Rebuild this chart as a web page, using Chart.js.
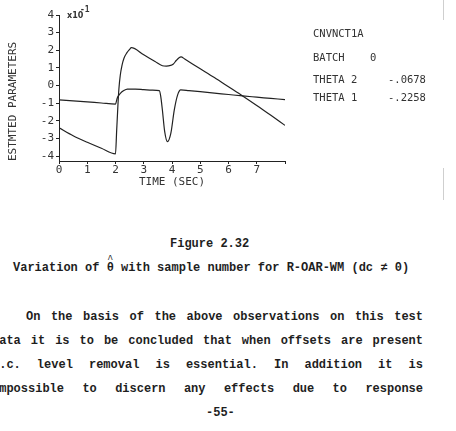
<!DOCTYPE html>
<html>
<head>
<meta charset="utf-8">
<script src="https://cdn.jsdelivr.net/npm/chart.js@4.4.1/dist/chart.umd.min.js"></script>
<style>
  html, body { margin: 0; padding: 0; background: #fff; }
  body { width: 456px; height: 431px; position: relative; overflow: hidden; }
  #plot { position: absolute; left: 0; top: 0; }
  .typed {
    position: absolute;
    font: bold 12px 'Liberation Mono', 'DejaVu Sans Mono', monospace;
    color: #1e1e1e;
    line-height: 16px;
    white-space: pre;
  }
  .just { white-space: normal; text-align: justify; text-align-last: justify; }
  .hat { position: relative; display: inline-block; }
  .hat span { position: absolute; left: 0; top: -8px; width: 100%; text-align: center; font-size: 10px; font-weight: normal; }
  .edge { position: absolute; left: 443px; width: 1px; background: #cfcfcf; }
</style>
</head>
<body>
<canvas id="plot" width="456" height="200"></canvas>

<div class="typed" style="left:170px; top:236px;">Figure 2.32</div>
<div class="typed" style="left:13px; top:260px;">Variation of <span class="hat">θ<span>^</span></span> with sample number for R-OAR-WM (dc ≠ 0)</div>

<div class="typed just" style="left:26px; top:309px; width:397px;">On the basis of the above observations on this test</div>
<div class="typed just" style="left:-8px; top:333px; width:431px;">data it is to be concluded that when offsets are present</div>
<div class="typed just" style="left:-8px; top:357px; width:431px;">d.c. level removal is essential. In addition it is</div>
<div class="typed just" style="left:-8px; top:381px; width:431px;">impossible to discern any effects due to response</div>

<div class="typed" style="left:206px; top:405px;">-55-</div>

<div class="edge" style="top:0; height:20px;"></div>
<div class="edge" style="top:168px; height:32px;"></div>

<script>
// ===== Values (units of x10^-1) =====
const theta1Time = [0, 0.5, 1, 1.5, 2.0, 2.04, 2.08, 2.12, 2.17, 2.23, 2.3, 2.4, 2.5, 2.56,
  3.0, 3.4, 3.66, 3.8, 3.95, 4.05, 4.15, 4.25, 4.32, 4.45, 5, 5.5, 6, 6.5, 7, 7.5, 8];
const theta1Values = [-2.4, -2.85, -3.22, -3.56, -3.88, -2.6, -1.3, -0.2, 0.6, 1.15, 1.55, 1.85, 2.05, 2.15,
  1.74, 1.36, 1.12, 1.1, 1.14, 1.22, 1.42, 1.58, 1.63, 1.5, 0.95, 0.45, -0.07, -0.59, -1.13, -1.69, -2.26];

const theta2Time = [0, 0.5, 1, 1.5, 2.0, 2.06, 2.12, 2.18, 2.28, 2.42, 2.7, 3.0, 3.3, 3.55,
  3.6, 3.66, 3.74, 3.84, 3.96, 4.08, 4.2, 4.31, 4.6, 5, 5.5, 6, 6.5, 7, 7.5, 8];
const theta2Values = [-0.81, -0.87, -0.93, -0.99, -1.05, -0.72, -0.55, -0.43, -0.3, -0.2, -0.2, -0.23, -0.26, -0.29,
  -0.6, -1.39, -2.6, -3.18, -2.7, -1.39, -0.53, -0.25, -0.29, -0.35, -0.43, -0.51, -0.59, -0.66, -0.73, -0.8];

const yTickValues = [4, 3, 2, 1, 0, -1, -2, -3, -4];
const xTickLabels = ['0', '1', '2', '3', '4', '5', '6', '7'];

const runInfo = [
  ['CNVNCT1A', ''],
  ['BATCH', '0'],
  ['THETA 2', '-.0678'],
  ['THETA 1', '-.2258'],
];

const INK = '#222';
const PLOT_FONT = "'DejaVu Sans Mono', monospace";

// ===== Plotter annotations (multiplier + run info) =====
const plotterText = {
  id: 'plotterText',
  afterDraw(chart) {
    const ctx = chart.ctx;
    ctx.save();
    ctx.fillStyle = '#333';
    ctx.textBaseline = 'middle';

    ctx.font = 'bold 8px "DejaVu Sans"';
    ctx.fillText('x10', 67, 16);
    ctx.font = 'bold 8px "DejaVu Sans Mono"';
    ctx.fillText('-1', 80, 10);

    ctx.font = `10.5px ${PLOT_FONT}`;
    const rowY = [34, 58, 80, 98];
    runInfo.forEach(([label, value], i) => {
      ctx.fillText(label, 313, rowY[i]);
      if (value) ctx.fillText(value, i === 1 ? 370 : 388, rowY[i]);
    });
    ctx.restore();
  },
};

// ===== Chart =====
function renderParameterChart() {
  const canvas = document.getElementById('plot');
  if (!canvas) return;

  Chart.defaults.font.family = PLOT_FONT;
  Chart.defaults.color = '#333';

  const lineStyle = {
    borderColor: INK,
    borderWidth: 1.2,
    pointRadius: 0,
    fill: false,
    cubicInterpolationMode: 'monotone',
  };

  new Chart(canvas, {
    type: 'line',
    data: {
      datasets: [
        {
          label: 'THETA 1',
          data: theta1Time.map((t, i) => ({ x: t, y: theta1Values[i] })),
          ...lineStyle,
        },
        {
          label: 'THETA 2',
          data: theta2Time.map((t, i) => ({ x: t, y: theta2Values[i] })),
          ...lineStyle,
        },
      ],
    },
    options: {
      responsive: false,
      animation: false,
      devicePixelRatio: 1,
      layout: { padding: { left: 0, right: 171, top: 15, bottom: 0 } },
      plugins: { legend: { display: false }, tooltip: { enabled: false } },
      scales: {
        x: {
          type: 'linear',
          min: 0,
          max: 8,
          afterFit: (scale) => { scale.height = 39; },
          ticks: {
            stepSize: 1,
            padding: 1,
            font: { size: 11, lineHeight: 1 },
            maxRotation: 0,
            callback: (v) => xTickLabels[v] ?? '',
          },
          grid: { drawOnChartArea: false, tickLength: 3, color: INK },
          border: { color: INK, width: 1 },
          title: {
            display: true,
            text: 'TIME (SEC)',
            font: { size: 11, lineHeight: 1.2 },
            padding: { top: 0, bottom: 11 },
          },
        },
        y: {
          min: -4.28,
          max: 4,
          afterFit: (scale) => { scale.width = 59; },
          afterBuildTicks: (scale) => {
            scale.ticks = yTickValues.map((v) => ({ value: v }));
          },
          ticks: { padding: 2, font: { size: 11 } },
          grid: { drawOnChartArea: false, tickLength: 3, color: INK },
          border: { color: INK, width: 1 },
          title: {
            display: true,
            text: 'ESTMTED PARAMETERS',
            align: 'start',
            font: { size: 11, lineHeight: 1.2 },
            padding: { top: 7, bottom: 0 },
          },
        },
      },
    },
    plugins: [plotterText],
  });
}

// ===== Init =====
document.addEventListener('DOMContentLoaded', () => {
  renderParameterChart();
});
</script>
</body>
</html>
